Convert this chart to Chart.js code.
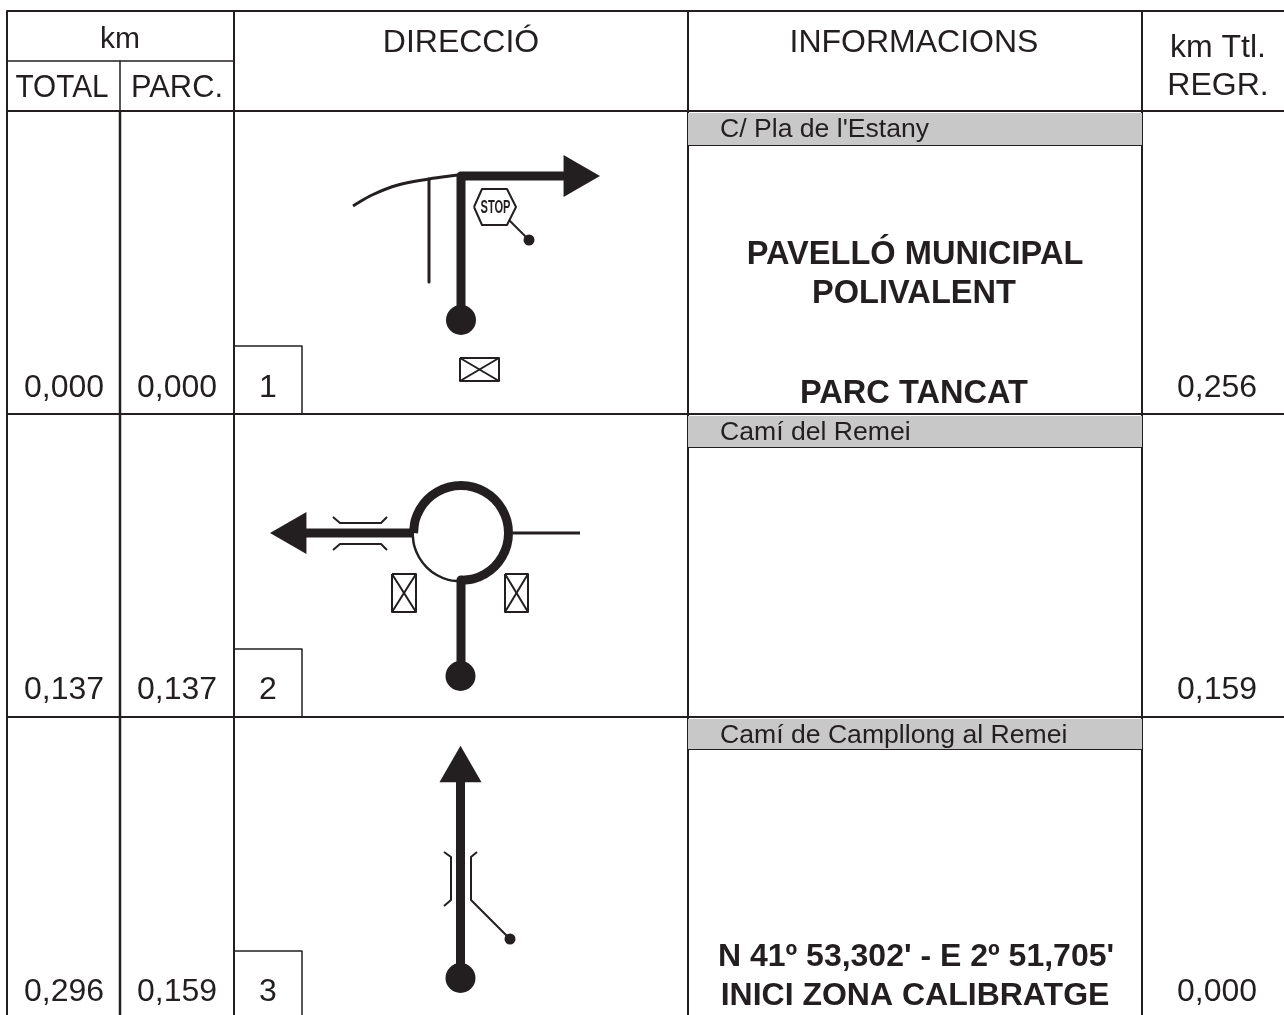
<!DOCTYPE html>
<html>
<head>
<meta charset="utf-8">
<title>Road book</title>
<script src="https://cdn.jsdelivr.net/npm/chart.js@4"></script>
<style>
html, body { margin: 0; padding: 0; background: #fff; }
canvas { display: block; }
</style>
</head>
<body>
<canvas id="roadbook" width="1284" height="1015"></canvas>
<script>
const INK = '#231f20';
const BAND = '#c8c8c8';

// table values
const kmTotal = ['0,000', '0,137', '0,296'];
const kmParc = ['0,000', '0,137', '0,159'];
const kmRegr = ['0,256', '0,159', '0,000'];
const stepNumbers = ['1', '2', '3'];
const streets = ["C/ Pla de l'Estany", 'Camí del Remei', 'Camí de Campllong al Remei'];
const columnHeaders = ['DIRECCIÓ', 'INFORMACIONS'];
const kmHeaders = ['km', 'TOTAL', 'PARC.'];
const regrHeaders = ['km Ttl.', 'REGR.'];
const infoRow1 = ['PAVELLÓ MUNICIPAL', 'POLIVALENT', 'PARC TANCAT'];
const infoRow3 = ["N 41º 53,302' - E 2º 51,705'", 'INICI ZONA CALIBRATGE'];

// table layout, in the units of the page scale
const rowBaselines = [397, 699, 1001];
const rowLines = [414, 717];
const bandTops = [113, 416, 719];
const bandBottoms = [145, 447, 749];
const streetBaselines = [137, 440, 743];

const lines = [];

function addLine(points, width, tension) {
    lines.push({
        data: points.map(p => ({ x: p[0], y: p[1] })),
        showLine: true,
        borderColor: INK,
        borderWidth: width,
        borderJoinStyle: 'round',
        tension: tension || 0,
        pointRadius: 0,
        fill: false
    });
}

function addBand(top, bottom) {
    lines.push({
        data: [{ x: 688, y: top }, { x: 1142, y: top }, { x: 1142, y: bottom }, { x: 688, y: bottom }],
        showLine: true,
        borderWidth: 0,
        backgroundColor: BAND,
        pointRadius: 0,
        tension: 0,
        fill: 'shape'
    });
}

// grey street bands go under everything else
bandTops.forEach((top, i) => addBand(top, bandBottoms[i]));
bandBottoms.forEach(y => addLine([[688, y], [1142, y]], 2));

// grid
addLine([[7, 11], [1284, 11]], 2);
addLine([[7, 111], [1284, 111]], 2);
rowLines.forEach(y => addLine([[7, y], [1284, y]], 2));
addLine([[7, 11], [7, 1015]], 2);
addLine([[234, 11], [234, 1015]], 2);
addLine([[688, 11], [688, 1015]], 2);
addLine([[1142, 11], [1142, 1015]], 2);
addLine([[120, 111], [120, 1015]], 2.5);
addLine([[7, 61], [234, 61]], 1.5);
addLine([[120, 61], [120, 111]], 1.5);

// step number boxes
addLine([[234, 346], [302, 346], [302, 414]], 1.5);
addLine([[234, 649], [302, 649], [302, 717]], 1.5);
addLine([[234, 951], [302, 951], [302, 1015]], 1.5);

// step 1
addLine([[461, 320], [461, 176], [566, 176]], 9);
addLine([[353, 206], [372, 195], [398, 185], [429, 179], [458, 175]], 3, 0.35);
addLine([[429, 179], [429, 282]], 3);
addLine([[474, 207], [482, 189], [507, 189], [516, 207], [507, 225], [482, 225], [474, 207]], 2);
addLine([[509, 220], [529, 240]], 2);
addLine([[460, 358], [499, 358], [499, 381], [460, 381], [460, 358]], 2);
addLine([[460, 358], [499, 381]], 2);
addLine([[460, 381], [499, 358]], 2);

// step 2
addLine([[413.5, 533], [415.1, 520.7], [419.9, 509.25], [427.4, 499.4], [437.25, 491.9], [448.7, 487.1],
    [461, 485.5], [473.3, 487.1], [484.75, 491.9], [494.6, 499.4], [502.1, 509.25], [506.9, 520.7],
    [508.5, 533], [506.9, 545.3], [502.1, 556.75], [494.6, 566.6], [484.75, 574.1], [473.3, 578.9],
    [461, 580.5]], 9, 0.34);
addLine([[461, 581.5], [448.45, 579.85], [436.75, 575], [426.7, 567.3], [419, 557.25], [414.15, 545.55],
    [412.5, 533]], 2.5, 0.34);
addLine([[414, 533], [305, 533]], 9);
addLine([[513, 533], [580, 533]], 3);
addLine([[461, 580], [461, 676]], 9);
addLine([[333, 517], [340, 523], [381, 523], [387, 517]], 2);
addLine([[333, 550], [340, 544], [381, 544], [387, 550]], 2);
addLine([[392, 574], [416, 574], [416, 612], [392, 612], [392, 574]], 2);
addLine([[392, 574], [416, 612]], 2);
addLine([[392, 612], [416, 574]], 2);
addLine([[505, 574], [528, 574], [528, 612], [505, 612], [505, 574]], 2);
addLine([[505, 574], [528, 612]], 2);
addLine([[505, 612], [528, 574]], 2);

// step 3
addLine([[460.5, 780], [460.5, 978]], 9);
addLine([[444, 852], [451, 857], [451, 900], [444, 906]], 2);
addLine([[477, 852], [471, 857], [471, 900], [507, 936]], 2);

// markers: start dots, small dots, arrow heads
const startDots = [{ x: 461, y: 320 }, { x: 460.5, y: 676 }, { x: 460.5, y: 978 }];
const smallDots = [{ x: 529, y: 240 }, { x: 510, y: 939 }];
const arrowHeads = [{ x: 575.7, y: 176 }, { x: 294.3, y: 533 }, { x: 460.5, y: 770 }];
const arrowRotation = [90, 270, 0];

lines.push({ data: startDots, pointStyle: 'circle', pointRadius: 15, backgroundColor: INK, borderWidth: 0 });
lines.push({ data: smallDots, pointStyle: 'circle', pointRadius: 5.5, backgroundColor: INK, borderWidth: 0 });
lines.push({
    data: arrowHeads,
    pointStyle: 'triangle',
    pointRadius: 24.3,
    pointRotation: arrowRotation,
    backgroundColor: INK,
    borderWidth: 0
});

const textPlugin = {
    id: 'tableText',
    afterDatasetsDraw(chart) {
        const ctx = chart.ctx;
        const sx = chart.scales.x;
        const sy = chart.scales.y;

        function put(text, x, y, size, align, bold, maxWidth) {
            ctx.font = (bold ? 'bold ' : '') + size + 'px "Liberation Sans"';
            ctx.textAlign = align;
            ctx.textBaseline = 'alphabetic';
            ctx.fillStyle = INK;
            if (maxWidth) {
                ctx.fillText(text, sx.getPixelForValue(x), sy.getPixelForValue(y), maxWidth);
            } else {
                ctx.fillText(text, sx.getPixelForValue(x), sy.getPixelForValue(y));
            }
        }

        ctx.save();
        put(kmHeaders[0], 120, 48, 30, 'center');
        put(kmHeaders[1], 62, 97, 32, 'center', false, 93);
        put(kmHeaders[2], 177, 97, 32, 'center', false, 92);
        put(columnHeaders[0], 461, 52, 32, 'center');
        put(columnHeaders[1], 914, 52, 32, 'center');
        put(regrHeaders[0], 1218, 57, 32, 'center');
        put(regrHeaders[1], 1218, 95, 32, 'center');

        rowBaselines.forEach((y, i) => {
            put(kmTotal[i], 64, y, 32, 'center');
            put(kmParc[i], 177, y, 32, 'center');
            put(stepNumbers[i], 268, y, 32, 'center');
            put(kmRegr[i], 1217, y, 32, 'center');
            put(streets[i], 720, streetBaselines[i], 26.6, 'left');
        });

        put(infoRow1[0], 915, 264, 32.6, 'center', true);
        put(infoRow1[1], 914, 303, 32.6, 'center', true);
        put(infoRow1[2], 914, 403, 32.6, 'center', true);
        put(infoRow3[0], 916, 966, 32, 'center', true);
        put(infoRow3[1], 915, 1005, 32, 'center', true);

        // sign lettering
        put('STOP', 495.5, 213, 18, 'center', true, 30);
        ctx.restore();
    }
};

new Chart(document.getElementById('roadbook').getContext('2d'), {
    type: 'scatter',
    data: { datasets: lines },
    options: {
        responsive: false,
        animation: false,
        layout: { padding: 0, autoPadding: false },
        scales: {
            x: { type: 'linear', display: false, min: 0, max: 1284 },
            y: { type: 'linear', display: false, min: 0, max: 1015, reverse: true }
        },
        plugins: {
            legend: { display: false },
            tooltip: { enabled: false },
            title: { display: false }
        }
    },
    plugins: [textPlugin]
});
</script>
</body>
</html>
